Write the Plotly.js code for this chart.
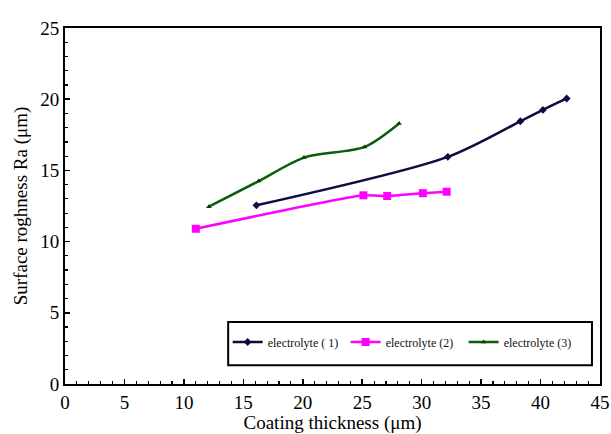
<!DOCTYPE html>
<html>
<head>
<meta charset="utf-8">
<script src="https://cdn.plot.ly/plotly-3.0.1.min.js"></script>
<style>html,body{margin:0;padding:0;background:#fff;}#chart{width:611px;height:434px;}</style>
</head>
<body>
<div id="chart"></div>
<script>
const x1 = [16.1, 32.2, 38.3, 40.2, 42.2];
const y1 = [12.55, 15.95, 18.45, 19.25, 20.05];
const x2 = [11.0, 25.1, 27.1, 30.1, 32.1];
const y2 = [10.9, 13.25, 13.2, 13.4, 13.5];
const x3 = [12.1, 16.3, 20.1, 25.2, 28.1];
const y3 = [12.45, 14.25, 15.9, 16.65, 18.3];
const names = ['electrolyte ( 1)', 'electrolyte (2)', 'electrolyte (3)'];
const xTicks = [0,5,10,15,20,25,30,35,40,45];
const yTicks = [0,5,10,15,20,25];

const font = {family: '"Liberation Serif", "Times New Roman", serif', color: '#000'};

const traces = [
  {x: x1, y: y1, name: names[0], mode: 'lines+markers', line: {color: '#0d0d40', width: 2.5, shape: 'spline', smoothing: 0.8}, marker: {symbol: 'diamond', size: 6, color: '#0d0d40'}},
  {x: x2, y: y2, name: names[1], mode: 'lines+markers', line: {color: '#ff00ff', width: 2.5, shape: 'spline', smoothing: 0.5}, marker: {symbol: 'square', size: 8, color: '#ff00ff'}},
  {x: x3, y: y3, name: names[2], mode: 'lines+markers', line: {color: '#0b5e0b', width: 2.5, shape: 'spline', smoothing: 0.8}, marker: {symbol: 'triangle-up', size: 5, color: '#0b3d0b'}}
];

const layout = {
  width: 611, height: 434,
  margin: {l: 65, r: 11, t: 28, b: 50},
  paper_bgcolor: '#fff', plot_bgcolor: '#fff',
  font: font,
  showlegend: true,
  legend: {
    orientation: 'h', x: 0.304, y: 0.118, xanchor: 'left', yanchor: 'middle',
    borderwidth: 0, bgcolor: 'rgba(0,0,0,0)',
    font: {family: font.family, size: 12, color: '#111'},
    itemwidth: 30, entrywidth: 73, entrywidthmode: 'pixels', tracegroupgap: 0
  },
  shapes: [
    {type: 'rect', xref: 'paper', yref: 'paper', x0: 0.305, x1: 0.985, y0: 0.053, y1: 0.174,
     line: {color: '#000', width: 2}, fillcolor: 'rgba(0,0,0,0)', layer: 'above'}
  ],
  xaxis: {
    range: [0, 45], tickvals: xTicks, ticktext: xTicks.map(String),
    showgrid: false, zeroline: false,
    showline: true, linecolor: '#000', linewidth: 2, mirror: true,
    ticks: 'inside', ticklen: 5, tickwidth: 1.5, tickcolor: '#000',
    minor: {dtick: 1, ticks: 'inside', ticklen: 3, tickwidth: 1.2, tickcolor: '#000', showgrid: false},
    tickfont: {family: font.family, size: 19, color: '#000'},
    title: {text: 'Coating thickness (μm)', font: {family: font.family, size: 19, color: '#000'}, standoff: 6}
  },
  yaxis: {
    range: [0, 25], tickvals: yTicks, ticktext: yTicks.map(String),
    showgrid: false, zeroline: false,
    showline: true, linecolor: '#000', linewidth: 2, mirror: true,
    ticks: 'inside', ticklen: 5, tickwidth: 1.5, tickcolor: '#000',
    minor: {dtick: 1, ticks: 'inside', ticklen: 3, tickwidth: 1.2, tickcolor: '#000', showgrid: false},
    tickfont: {family: font.family, size: 19, color: '#000'},
    title: {text: 'Surface roghness Ra (μm)', font: {family: font.family, size: 19, color: '#000'}, standoff: 8}
  }
};

Plotly.newPlot('chart', traces, layout, {displayModeBar: false, staticPlot: true});
</script>
</body>
</html>
